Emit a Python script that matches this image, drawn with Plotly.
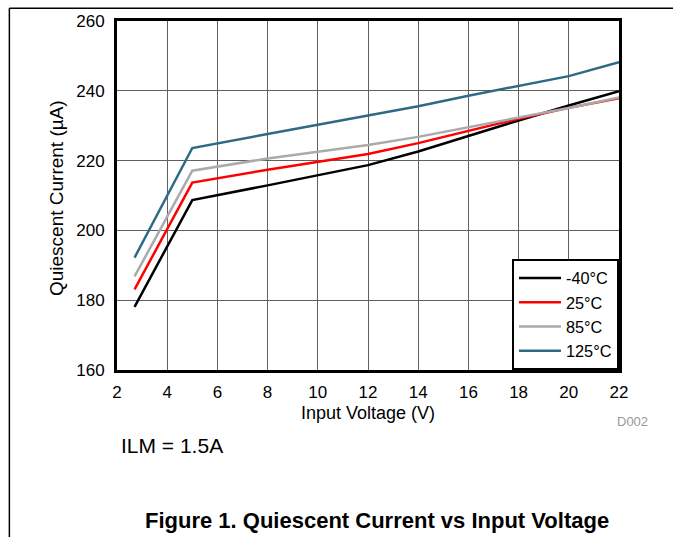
import plotly.graph_objects as go

voltage = [2.7, 5, 8, 12, 14, 16, 18, 20, 22]
iq_m40 = [178.1, 208.7, 212.9, 218.7, 222.6, 227.1, 231.5, 235.8, 239.9]
iq_25 = [183.1, 213.7, 217.4, 221.9, 225.0, 228.6, 232.0, 235.1, 237.9]
iq_85 = [186.8, 217.1, 220.6, 224.5, 226.8, 229.5, 232.3, 235.1, 238.1]
iq_125 = [192.2, 223.6, 227.6, 233.0, 235.6, 238.6, 241.4, 244.2, 248.2]

series_names = ["-40°C", "25°C", "85°C", "125°C"]
series_vals = [iq_m40, iq_25, iq_85, iq_125]
series_colors = ["#000000", "#ff0000", "#aaaaaa", "#2f6a85"]

x_ticks = [2, 4, 6, 8, 10, 12, 14, 16, 18, 20, 22]
y_ticks = [160, 180, 200, 220, 240, 260]

FONT = "Liberation Sans, Arial, sans-serif"

fig = go.Figure()
for name, vals, col in zip(series_names, series_vals, series_colors):
    fig.add_trace(go.Scatter(x=voltage, y=vals, mode="lines", name=name,
                             line=dict(color=col, width=2.5)))

axis_common = dict(showgrid=True, gridcolor="#606060", gridwidth=1.2,
                   showline=True, linecolor="black", linewidth=3, mirror=True,
                   ticks="", zeroline=False,
                   tickfont=dict(family=FONT, size=17, color="black"))

fig.update_layout(
    width=673, height=537,
    margin=dict(l=117, r=54, t=16, b=167),
    paper_bgcolor="white", plot_bgcolor="white",
    font=dict(family=FONT, color="black"),
    xaxis=dict(range=[2, 22], tickvals=x_ticks, ticklabelstandoff=5, **axis_common),
    yaxis=dict(range=[160, 260], tickvals=y_ticks, ticklabelstandoff=6, **axis_common),
    legend=dict(x=1, y=0, xanchor="right", yanchor="bottom",
                bgcolor="white", bordercolor="black", borderwidth=2,
                font=dict(family=FONT, size=16.3, color="black"),
                tracegroupgap=0, itemwidth=42),
    showlegend=True,
)

ann = [
    dict(text="Input Voltage (V)", x=0.5, y=-0.124, size=18, color="black", xanchor="center", angle=0),
    dict(text="Quiescent Current (µA)", x=-0.1206, y=0.494, size=19, color="black", xanchor="center", angle=-90),
    dict(text="D002", x=1.026, y=-0.147, size=13, color="#999999", xanchor="center", angle=0),
    dict(text="ILM = 1.5A", x=0.004, y=-0.2175, size=21, color="black", xanchor="left", angle=0),
    dict(text="<b>Figure 1. Quiescent Current vs Input Voltage</b>", x=0.5175, y=-0.432, size=22, color="black", xanchor="center", angle=0),
]
for a in ann:
    fig.add_annotation(text=a["text"], x=a["x"], y=a["y"], xref="paper", yref="paper",
                       xanchor=a["xanchor"], yanchor="middle", showarrow=False,
                       textangle=a["angle"],
                       font=dict(family=FONT, size=a["size"], color=a["color"]))

# frame lines (top and left) around the figure area
fig.add_shape(type="line", xref="paper", yref="paper", x0=-0.2144, x1=1.2, y0=1.0367, y1=1.0367,
              line=dict(color="black", width=1.5))
fig.add_shape(type="line", xref="paper", yref="paper", x0=-0.2144, x1=-0.2144, y0=1.0367, y1=-0.5,
              line=dict(color="black", width=1.5))

fig.write_html("out.html",
               config={"displayModeBar": False},
               post_script="document.body.style.margin='0';document.body.style.padding='0';document.body.style.overflow='hidden';")
